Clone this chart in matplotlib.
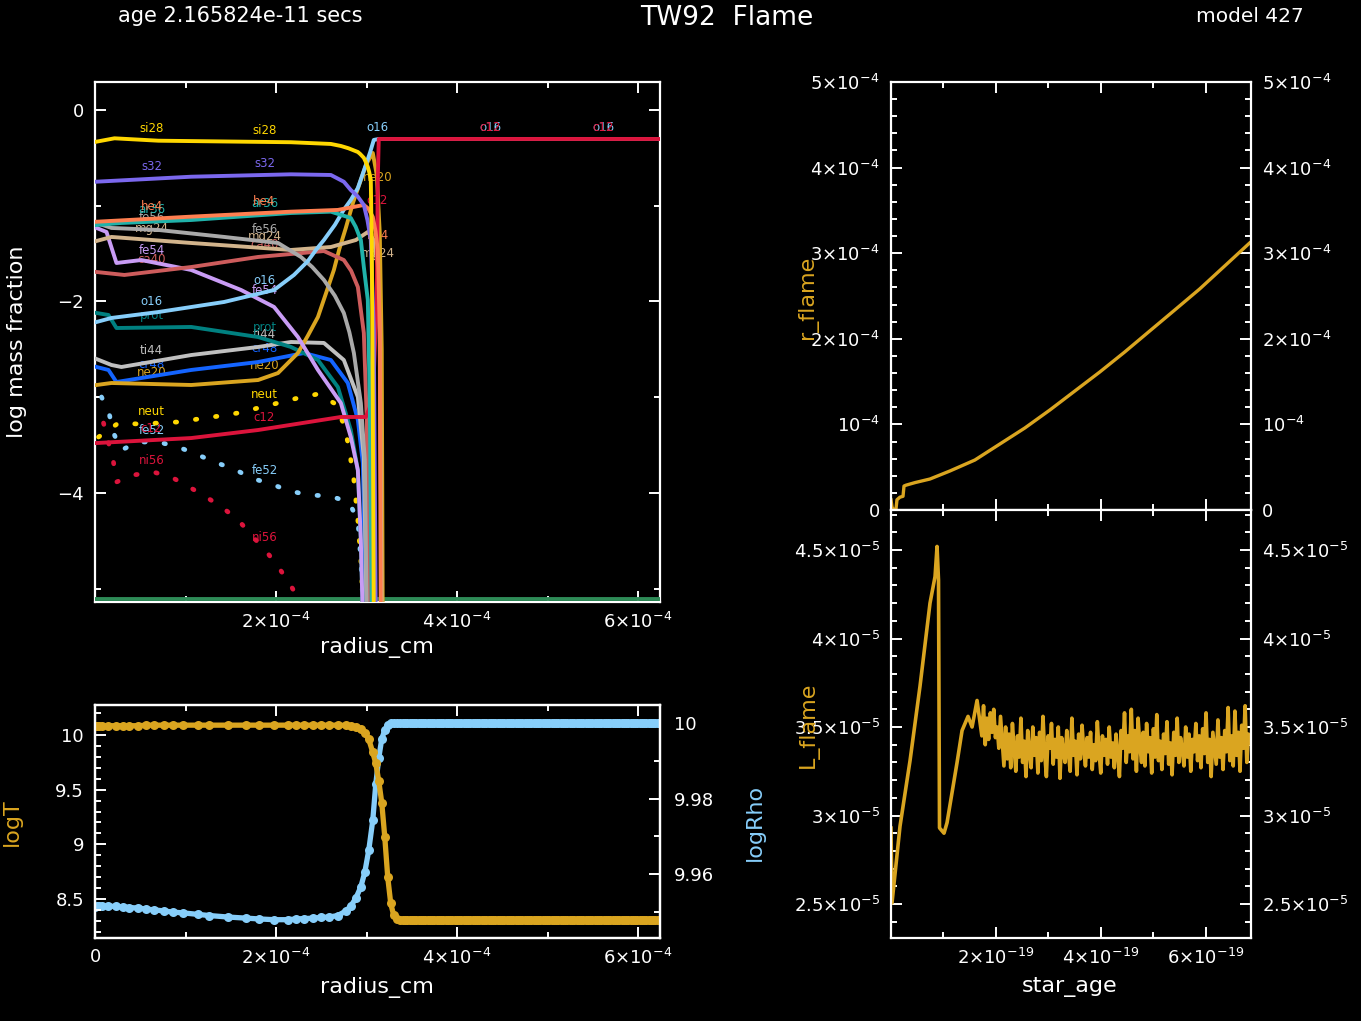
import numpy as np
import matplotlib
matplotlib.use('Agg')
import matplotlib.pyplot as plt
from matplotlib.ticker import FixedLocator, FuncFormatter, MultipleLocator

plt.rcParams['font.family'] = ['DejaVu Sans']
plt.rcParams['mathtext.fontset'] = 'dejavusans'

# ---------------- data ----------------
# abundance profiles: radius (units of 1e-4 cm) and log10 mass fraction
si28_r = [0.017, 0.215, 0.700, 2.165, 2.606, 2.716, 2.80, 2.904, 2.93, 2.970, 2.99, 3.014, 3.03, 3.047, 3.058, 3.069, 3.080]
si28_x = [-0.331, -0.296, -0.321, -0.337, -0.355, -0.376, -0.40, -0.439, -0.46, -0.50, -0.54, -0.595, -0.65, -0.73, -1.46, -3.03, -5.33]
s32_r = [0.017, 1.063, 2.165, 2.606, 2.75, 2.826, 2.90, 2.970, 3.01, 3.047, 3.080, 3.102]
s32_x = [-0.749, -0.697, -0.672, -0.679, -0.75, -0.836, -0.90, -0.992, -1.15, -1.358, -2.30, -5.33]
he4_r = [0.017, 1.063, 2.165, 2.683, 2.970, 3.02, 3.069, 3.10, 3.124, 3.146, 3.157]
he4_x = [-1.167, -1.114, -1.062, -1.044, -0.992, -1.03, -1.117, -1.27, -1.462, -2.30, -5.33]
ar36_r = [0.017, 0.292, 1.063, 2.165, 2.606, 2.826, 2.88, 2.937, 2.970, 3.014, 3.036, 3.058]
ar36_x = [-1.201, -1.180, -1.149, -1.076, -1.062, -1.128, -1.22, -1.358, -1.640, -1.984, -3.03, -5.33]
fe56_r = [0.017, 0.182, 0.700, 1.427, 2.022, 2.275, 2.40, 2.529, 2.65, 2.749, 2.81, 2.860, 2.937, 2.981, 3.003]
fe56_x = [-1.180, -1.232, -1.253, -1.326, -1.389, -1.535, -1.64, -1.775, -1.94, -2.120, -2.32, -2.538, -3.060, -3.655, -5.33]
mg24_r = [0.017, 0.182, 1.063, 2.165, 2.606, 2.882, 3.014, 3.080, 3.124, 3.146, 3.168]
mg24_x = [-1.368, -1.326, -1.389, -1.462, -1.431, -1.358, -1.274, -1.358, -1.640, -2.329, -5.33]
ca40_r = [0.017, 0.325, 1.063, 1.802, 2.529, 2.749, 2.83, 2.904, 2.970, 3.003, 3.025]
ca40_x = [-1.692, -1.723, -1.640, -1.535, -1.473, -1.567, -1.68, -1.849, -2.329, -3.238, -5.33]
fe54_r = [0.017, 0.127, 0.237, 0.512, 1.063, 1.614, 1.978, 2.242, 2.463, 2.716, 2.826, 2.904, 2.937, 2.959]
fe54_x = [-1.232, -1.274, -1.598, -1.567, -1.671, -1.880, -2.057, -2.371, -2.715, -3.060, -3.415, -3.760, -4.49, -5.33]
o16_r = [0.017, 0.182, 0.700, 1.427, 1.978, 2.198, 2.35, 2.45, 2.529, 2.65, 2.75, 2.826, 2.904, 2.992, 3.04, 3.080, 3.135, 6.242]
o16_x = [-2.214, -2.172, -2.110, -2.005, -1.880, -1.723, -1.58, -1.45, -1.358, -1.20, -1.04, -0.940, -0.815, -0.574, -0.44, -0.313, -0.303, -0.303]
c12_r = [0.017, 1.063, 1.802, 2.716, 2.992, 3.069, 3.113, 3.124, 3.135, 6.242]
c12_x = [-3.478, -3.426, -3.342, -3.206, -3.206, -3.03, -1.984, -0.731, -0.303, -0.303]
prot_r = [0.017, 0.149, 0.237, 1.063, 1.802, 2.165, 2.463, 2.683, 2.826, 2.904, 2.937, 2.959]
prot_x = [-2.120, -2.141, -2.277, -2.266, -2.371, -2.475, -2.611, -2.893, -3.342, -3.760, -4.49, -5.33]
ti44_r = [0.017, 0.182, 0.292, 1.063, 1.802, 2.165, 2.529, 2.749, 2.904, 2.970, 3.003]
ti44_x = [-2.601, -2.663, -2.684, -2.559, -2.475, -2.423, -2.433, -2.611, -2.997, -3.624, -5.33]
cr48_r = [0.017, 0.149, 0.237, 1.063, 1.802, 2.309, 2.606, 2.793, 2.904, 2.959, 2.992]
cr48_x = [-2.684, -2.715, -2.841, -2.715, -2.632, -2.538, -2.611, -2.851, -3.238, -3.687, -5.33]
ne20_r = [0.017, 0.182, 1.063, 1.802, 2.022, 2.242, 2.35, 2.463, 2.55, 2.639, 2.70, 2.771, 2.85, 2.937, 3.00, 3.069, 3.113, 3.146, 3.168, 3.179]
ne20_x = [-2.872, -2.851, -2.872, -2.820, -2.747, -2.538, -2.36, -2.162, -1.92, -1.671, -1.45, -1.232, -0.97, -0.731, -0.56, -0.449, -0.679, -1.285, -2.507, -5.33]
neut_r = [0.039, 0.259, 0.479, 0.700, 0.920, 1.141, 1.372, 1.581, 1.802, 2.022, 2.242, 2.463, 2.639,
          2.738, 2.793, 2.826, 2.860, 2.882, 2.904, 2.937, 2.970]
neut_x = [-3.415, -3.269, -3.279, -3.269, -3.258, -3.227, -3.196, -3.164, -3.112, -3.060, -3.008, -2.966, -3.060,
          -3.258, -3.467, -3.655, -3.864, -4.073, -4.282, -4.700, -5.33]
fe52_r = [0.072, 0.160, 0.204, 0.292, 0.479, 0.700, 0.920, 1.118, 1.317, 1.537, 1.725, 1.945, 2.154,
          2.364, 2.595, 2.804, 2.904, 2.937, 2.970]
fe52_x = [-2.997, -3.185, -3.373, -3.551, -3.467, -3.467, -3.520, -3.593, -3.676, -3.749, -3.843, -3.906, -3.979,
          -4.021, -4.031, -4.094, -4.282, -4.700, -5.33]
ni56_r = [0.094, 0.204, 0.237, 0.424, 0.645, 0.843, 1.041, 1.229, 1.416, 1.592, 1.747, 1.890, 2.033, 2.154, 2.253, 2.33]
ni56_x = [-3.269, -3.676, -3.885, -3.812, -3.781, -3.833, -3.937, -4.042, -4.157, -4.292, -4.460, -4.606, -4.783,
          -4.950, -5.117, -5.33]
h1_r = [0.0, 6.242]
h1_x = [-5.11, -5.11]

# temperature / density profile (radius in 1e-4 cm)
zone_r_inner = [0.0, 0.02, 0.04, 0.072, 0.149, 0.237, 0.314, 0.380, 0.479, 0.567, 0.656, 0.766, 0.865, 0.975,
                1.141, 1.262, 1.471, 1.669, 1.813, 1.978, 2.132, 2.220, 2.309, 2.408, 2.496, 2.584, 2.683, 2.771,
                2.826, 2.882, 2.937, 2.981, 3.025, 3.069, 3.102, 3.135, 3.168, 3.201, 3.234, 3.267, 3.300, 3.333, 3.366]
logT_inner = [10.08, 10.08, 10.08, 10.08, 10.085, 10.085, 10.085, 10.085, 10.085, 10.09, 10.09, 10.09, 10.09, 10.09,
              10.09, 10.09, 10.09, 10.09, 10.09, 10.09, 10.09, 10.09, 10.09, 10.09, 10.09, 10.09, 10.09, 10.088,
              10.085, 10.075, 10.055, 10.02, 9.96, 9.84, 9.74, 9.58, 9.38, 9.07, 8.70, 8.46, 8.35, 8.32, 8.31]
logRho_inner = [9.9513, 9.9514, 9.9515, 9.9515, 9.9515, 9.9514, 9.9513, 9.9511, 9.9510, 9.9507, 9.9505, 9.9502,
                9.9499, 9.9497, 9.9493, 9.9490, 9.9486, 9.9483, 9.9481, 9.9479, 9.9479, 9.9481, 9.9482, 9.9483,
                9.9485, 9.9486, 9.9490, 9.9502, 9.9515, 9.9536, 9.9566, 9.9605, 9.9664, 9.9743, 9.9838, 9.9907,
                9.9958, 9.9981, 9.9995, 10.0, 10.0, 10.0, 10.0]
zone_r_outer_range = (3.40, 6.242, 115)
logT_outer = 8.31
logRho_outer = 10.0

# flame history: star_age (units of 1e-19 yr)
rf_age = [0.0, 0.019, 0.038, 0.095, 0.114, 0.171, 0.229, 0.248, 0.286, 0.457, 0.743, 1.124, 1.600, 2.076,
          2.552, 3.029, 3.505, 3.981, 4.457, 4.933, 5.410, 5.886, 6.362, 6.838]
r_flame = [0.117, 0.035, 0.01, 0.01, 0.12, 0.15, 0.16, 0.28, 0.29, 0.32, 0.362, 0.456, 0.584, 0.771,
           0.958, 1.168, 1.39, 1.612, 1.846, 2.091, 2.336, 2.582, 2.850, 3.119]   # units 1e-4

lf_age_early = [0.0, 0.019, 0.172, 0.363, 0.553, 0.744, 0.840, 0.878, 0.906, 0.925, 1.011, 1.069, 1.164,
                1.260, 1.355, 1.469, 1.546, 1.641]
L_early = [2.929, 2.506, 2.94, 3.31, 3.73, 4.20, 4.35, 4.52, 4.33, 2.93, 2.90, 2.96, 3.13, 3.30, 3.48, 3.56,
           3.50, 3.65]   # units 1e-5
lf_age_noise_range = (1.70, 6.85)
L_noise = [3.52, 3.45, 3.62, 3.40, 3.55, 3.43, 3.58, 3.47, 3.60, 3.44, 3.50, 3.38, 3.56, 3.42, 3.28, 3.50,
           3.32, 3.46, 3.27, 3.52, 3.38, 3.25, 3.45, 3.33, 3.55, 3.30, 3.42, 3.22, 3.48, 3.36, 3.27, 3.50,
           3.34, 3.44, 3.24, 3.47, 3.31, 3.56, 3.35, 3.22, 3.45, 3.38, 3.52, 3.29, 3.43, 3.33, 3.50, 3.21,
           3.44, 3.36, 3.30, 3.48, 3.35, 3.25, 3.55, 3.34, 3.42, 3.23, 3.46, 3.32, 3.51, 3.37, 3.28, 3.44,
           3.33, 3.47, 3.26, 3.40, 3.31, 3.53, 3.36, 3.24, 3.45, 3.34, 3.43, 3.29, 3.50, 3.33, 3.41, 3.27,
           3.46, 3.35, 3.22, 3.48, 3.38, 3.58, 3.30, 3.45, 3.36, 3.60, 3.32, 3.48, 3.25, 3.55, 3.40, 3.30,
           3.47, 3.28, 3.52, 3.36, 3.44, 3.24, 3.49, 3.33, 3.57, 3.31, 3.42, 3.26, 3.46, 3.35, 3.53, 3.29,
           3.41, 3.23, 3.47, 3.34, 3.55, 3.30, 3.44, 3.37, 3.28, 3.50, 3.33, 3.46, 3.25, 3.43, 3.36, 3.52,
           3.31, 3.45, 3.27, 3.49, 3.35, 3.58, 3.30, 3.43, 3.22, 3.47, 3.38, 3.29, 3.54, 3.33, 3.44, 3.26,
           3.48, 3.36, 3.61, 3.31, 3.45, 3.28, 3.59, 3.34, 3.47, 3.25, 3.51, 3.38, 3.62, 3.30, 3.46, 3.41]

# ---------------- styles ----------------
species = [
    ('h1', h1_r, h1_x, '#2E8B57', 'solid'),
    ('ni56', ni56_r, ni56_x, '#DC143C', 'dot'),
    ('fe52', fe52_r, fe52_x, '#87CEFA', 'dot'),
    ('neut', neut_r, neut_x, '#FFD700', 'dot'),
    ('cr48', cr48_r, cr48_x, '#1464FF', 'solid'),
    ('ti44', ti44_r, ti44_x, '#C0C0C0', 'solid'),
    ('prot', prot_r, prot_x, '#008080', 'solid'),
    ('ne20', ne20_r, ne20_x, '#DAA520', 'solid'),
    ('fe54', fe54_r, fe54_x, '#C99CF5', 'solid'),
    ('ca40', ca40_r, ca40_x, '#CD5C5C', 'solid'),
    ('mg24', mg24_r, mg24_x, '#D2B48C', 'solid'),
    ('fe56', fe56_r, fe56_x, '#A9A9A9', 'solid'),
    ('o16', o16_r, o16_x, '#87CEFA', 'solid'),
    ('c12', c12_r, c12_x, '#DC143C', 'solid'),
    ('ar36', ar36_r, ar36_x, '#20B2AA', 'solid'),
    ('he4', he4_r, he4_x, '#FF7F50', 'solid'),
    ('s32', s32_r, s32_x, '#7B68EE', 'solid'),
    ('si28', si28_r, si28_x, '#FFD700', 'solid'),
]

W, H = 1361.0, 1021.0
fig = plt.figure(figsize=(W / 100, H / 100), dpi=100, facecolor='black')


def box(l, t, r, b):
    return [l / W, 1 - b / H, (r - l) / W, (b - t) / H]


def sci(v, pos=None):
    if abs(v) < 1e-40:
        return '0'
    e = int(np.floor(np.log10(abs(v)) + 1e-6))
    m = round(v / 10.0 ** e, 2)
    if abs(m - 1) < 1e-6:
        return r'$10^{%d}$' % e
    return r'${%s}{\times}10^{%d}$' % ('%g' % m, e)


def style(ax):
    ax.set_facecolor('black')
    for s in ax.spines.values():
        s.set_color('white')
        s.set_linewidth(1.6)
    ax.tick_params(which='both', direction='in', colors='white', top=True, right=True,
                   width=1.4, labelsize=13)
    ax.tick_params(which='major', length=8)
    ax.tick_params(which='minor', length=4)
    ax.tick_params(axis='y', pad=8)
    ax.tick_params(axis='x', pad=7)


# ---- abundance panel ----
ax = fig.add_axes(box(95, 82, 660, 602))
style(ax)
xmax = 6.242e-4
ax.set_xlim(0, xmax)
ax.set_ylim(-5.138, 0.292)
ax.xaxis.set_major_locator(FixedLocator([2e-4, 4e-4, 6e-4]))
ax.xaxis.set_minor_locator(MultipleLocator(1e-4))
ax.xaxis.set_major_formatter(FuncFormatter(sci))
ax.yaxis.set_major_locator(MultipleLocator(2))
ax.yaxis.set_minor_locator(MultipleLocator(1))
label_pos = (np.arange(5) + 0.5) * xmax / 5
for name, r, xv, col, ls in species:
    rr = np.array(r) * 1e-4
    if ls == 'dot':
        ax.plot(rr, xv, color=col, lw=3.4, linestyle=(0, (0.3, 4.0)), dash_capstyle='round', zorder=3)
    else:
        ax.plot(rr, xv, color=col, lw=2.8, zorder=3, solid_joinstyle='round')
    if name == 'h1':
        continue
    for lp in label_pos:
        if rr[0] <= lp <= rr[-1]:
            yv = np.interp(lp, rr, xv)
            if -5.0 < yv < 0.25:
                ax.annotate(name, (lp, yv), xytext=(0, 8.5), textcoords='offset points', ha='center',
                            va='center', fontsize=8.5, color=col, zorder=1)

# ---- logT / logRho panel ----
axT = fig.add_axes(box(95, 705, 660, 938))
axR = axT.twinx()
style(axR)
style(axT)
zone_r = np.concatenate([zone_r_inner, np.linspace(*zone_r_outer_range)]) * 1e-4
n_out = zone_r_outer_range[2]
logT = np.concatenate([logT_inner, np.full(n_out, logT_outer)])
logRho = np.concatenate([logRho_inner, np.full(n_out, logRho_outer)])
axR.plot(zone_r, logRho, color='#87CEFA', lw=3.8, marker='o', ms=6.5, mew=0)
axT.plot(zone_r, logT, color='#DAA520', lw=3.8, marker='o', ms=6.5, mew=0)
axT.set_zorder(axR.get_zorder() + 1)
axT.patch.set_visible(False)
axT.set_xlim(0, xmax)
axT.set_ylim(8.1427, 10.2745)
axR.set_ylim(9.94305, 10.00477)
axT.xaxis.set_major_locator(MultipleLocator(2e-4))
axT.xaxis.set_minor_locator(MultipleLocator(1e-4))
axT.xaxis.set_major_formatter(FuncFormatter(sci))
axT.yaxis.set_major_locator(MultipleLocator(0.5))
axT.yaxis.set_minor_locator(MultipleLocator(0.1))
axT.yaxis.set_major_formatter(FuncFormatter(lambda v, p: '%g' % round(v, 3)))
axT.tick_params(right=False, which='both')
axR.yaxis.set_major_locator(FixedLocator([9.96, 9.98, 10.0]))
axR.yaxis.set_minor_locator(FixedLocator([9.95, 9.97, 9.99]))
axR.yaxis.set_major_formatter(FuncFormatter(lambda v, p: '%g' % round(v, 3)))
axR.tick_params(axis='y', pad=10)

# ---- r_flame panel ----
agex = 6.865e-19
axF = fig.add_axes(box(891, 82, 1251, 510))
style(axF)
axF.plot(np.array(rf_age) * 1e-19, np.array(r_flame) * 1e-4, color='#DAA520', lw=2.4)
axF.set_xlim(0, agex)
axF.set_ylim(0, 5e-4)
axF.xaxis.set_major_locator(FixedLocator([2e-19, 4e-19, 6e-19]))
axF.xaxis.set_minor_locator(MultipleLocator(1e-19))
axF.yaxis.set_major_locator(MultipleLocator(1e-4))
axF.yaxis.set_minor_locator(MultipleLocator(2e-5))
axF.yaxis.set_major_formatter(FuncFormatter(sci))
axF.tick_params(labelbottom=False, labelright=True)

# ---- L_flame panel ----
axL = fig.add_axes(box(891, 510, 1251, 938))
style(axL)
lf_age = np.concatenate([lf_age_early, np.linspace(lf_age_noise_range[0], lf_age_noise_range[1], len(L_noise))])
Lf = np.concatenate([L_early, L_noise])
axL.plot(lf_age * 1e-19, Lf * 1e-5, color='#DAA520', lw=2.6)
axL.set_xlim(0, agex)
axL.set_ylim(2.308e-5, 4.726e-5)
axL.xaxis.set_major_locator(FixedLocator([2e-19, 4e-19, 6e-19]))
axL.xaxis.set_minor_locator(MultipleLocator(1e-19))
axL.xaxis.set_major_formatter(FuncFormatter(sci))
axL.yaxis.set_major_locator(FixedLocator([2.5e-5, 3e-5, 3.5e-5, 4e-5, 4.5e-5]))
axL.yaxis.set_minor_locator(MultipleLocator(1e-6))
axL.yaxis.set_major_formatter(FuncFormatter(sci))
axL.tick_params(labelright=True)


# ---- texts ----
def ftext(x, y, s, **kw):
    fig.text(x / W, 1 - y / H, s, ha='center', va='center', **kw)


ftext(727, 18, 'TW92  Flame', fontsize=19, color='white')
ftext(240, 16, 'age 2.165824e-11 secs', fontsize=15, color='white')
ftext(1250, 16, 'model 427', fontsize=14.5, color='white')
ftext(17, 342, 'log mass fraction', fontsize=16, color='white', rotation=90)
ftext(377, 647, 'radius_cm', fontsize=16, color='white')
ftext(377, 987, 'radius_cm', fontsize=16, color='white')
ftext(1070, 987, 'star_age', fontsize=16, color='white')
ftext(12, 822, 'logT', fontsize=16, color='#DAA520', rotation=90)
ftext(755, 822, 'logRho', fontsize=16, color='#87CEFA', rotation=90)
ftext(808, 297, 'r_flame', fontsize=16, color='#DAA520', rotation=90)
ftext(808, 725, 'L_flame', fontsize=16, color='#DAA520', rotation=90)

fig.savefig('out.png', dpi=100, facecolor='black')
